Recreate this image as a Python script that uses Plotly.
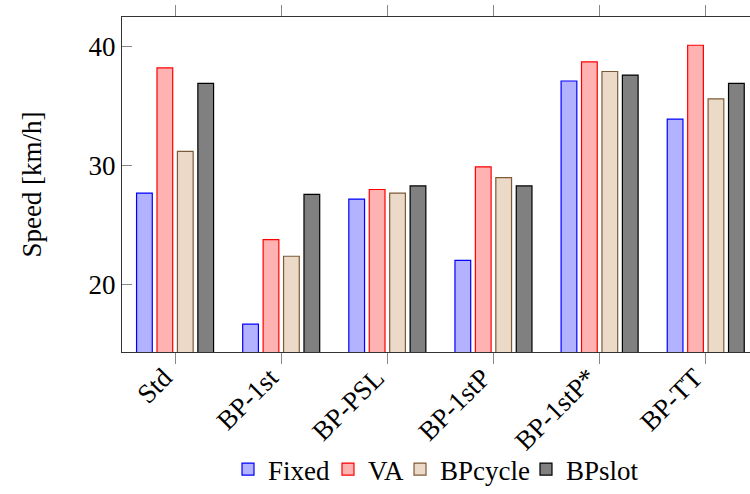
import plotly.graph_objects as go

categories = ["Std", "BP-1st", "BP-PSL", "BP-1stP", "BP-1stP*", "BP-TT"]
fixed = [27.7, 16.7, 27.2, 22.05, 37.1, 33.9]
va = [38.2, 23.8, 28.0, 29.9, 38.7, 40.1]
bpcycle = [31.2, 22.4, 27.7, 29.0, 37.9, 35.6]
bpslot = [36.9, 27.6, 28.3, 28.3, 37.6, 36.9]

series = [
    ("Fixed", fixed, "rgb(178,178,255)", "rgb(0,0,255)"),
    ("VA", va, "rgb(255,178,178)", "rgb(255,0,0)"),
    ("BPcycle", bpcycle, "rgb(236,218,200)", "rgb(125,90,55)"),
    ("BPslot", bpslot, "rgb(128,128,128)", "rgb(0,0,0)"),
]
legend_x = [0.1688, 0.328, 0.4427, 0.6433]

FONT = "Liberation Serif, DejaVu Serif, serif"
FS = 27
fig = go.Figure()
xs = list(range(len(categories)))
legend_names = ["legend", "legend2", "legend3", "legend4"]
for (name, vals, fill, line), lg in zip(series, legend_names):
    fig.add_trace(go.Bar(
        x=xs, y=vals, name=name, legend=lg,
        marker=dict(color=fill, line=dict(color=line, width=1.2)),
    ))

legend_common = dict(orientation="h", xanchor="left", y=-0.352, yanchor="middle",
                     font=dict(family=FONT, size=FS), bgcolor="rgba(0,0,0,0)")
layout_legends = {lg: dict(x=lx, **legend_common) for lg, lx in zip(legend_names, legend_x)}

fig.update_layout(
    width=750, height=494,
    margin=dict(l=122, r=0, t=17, b=142),
    barmode="group", bargap=0.23, bargroupgap=0.23,
    plot_bgcolor="white", paper_bgcolor="white",
    font=dict(family=FONT, size=FS, color="black"),
    showlegend=True,
    **layout_legends,
)
fig.update_xaxes(
    range=[-0.5, 5.417], tickmode="array", tickvals=xs, ticktext=categories,
    tickangle=-45, ticks="outside", ticklen=11, tickcolor="#888",
    showline=True, linecolor="#333", linewidth=1.2, mirror="ticks",
    showgrid=False, zeroline=False, tickfont=dict(family=FONT, size=FS),
    ticklabelstandoff=-13, ticklabelshift=-11,
)
fig.update_yaxes(
    range=[14.37, 42.47], tickvals=[20, 30, 40],
    ticks="inside", ticklen=10, tickcolor="#888",
    showline=True, linecolor="#333", linewidth=1.2, mirror=False,
    showgrid=False, zeroline=False, tickfont=dict(family=FONT, size=FS),
    ticklabelstandoff=0,
    title=dict(text="Speed [km/h]", font=dict(family=FONT, size=FS), standoff=39),
)
fig.write_html("out.html", config={"displayModeBar": False},
               post_script="document.body.style.margin='0';")
